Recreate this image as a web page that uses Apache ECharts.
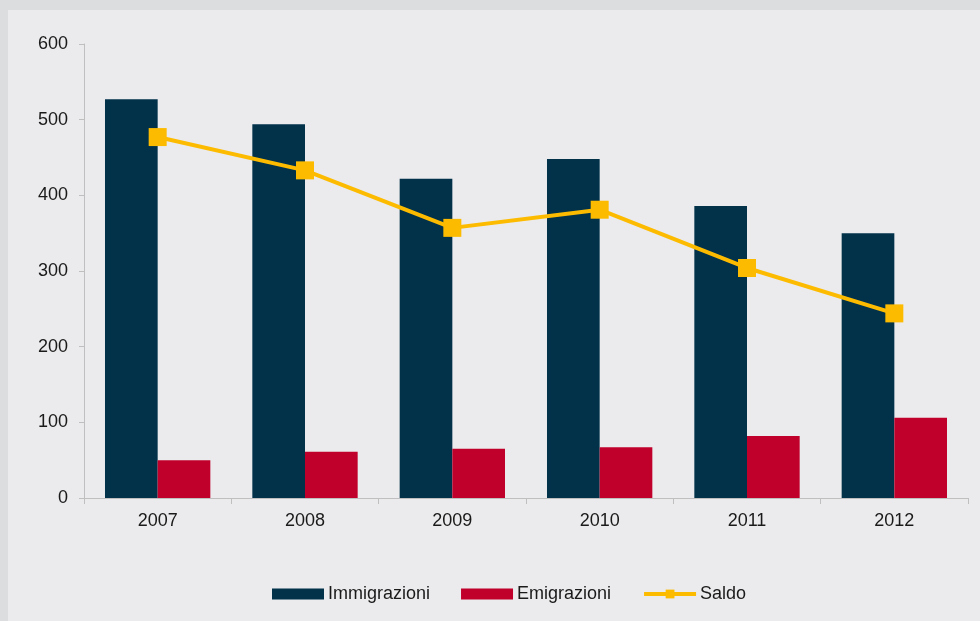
<!DOCTYPE html>
<html>
<head>
<meta charset="utf-8">
<script src="https://cdn.jsdelivr.net/npm/echarts@6/dist/echarts.min.js"></script>
<style>
  html, body { margin: 0; padding: 0; background: #dcdddf; width: 980px; height: 621px; overflow: hidden; }
  #chart { position: absolute; left: 8px; top: 10px; width: 972px; height: 611px; background: #ebebed; }
</style>
</head>
<body>
<div id="chart"></div>
<script>
var years = ["2007", "2008", "2009", "2010", "2011", "2012"];
var immigrazioni = [527, 494, 422, 448, 386, 350];
var emigrazioni = [50, 61, 65, 67, 82, 106];
var saldo = [477, 433, 357, 381, 304, 244];

var chartDom = document.getElementById("chart");
var myChart = echarts.init(chartDom);
var font = "Liberation Sans, Arial, sans-serif";

var option = {
  animation: false,
  textStyle: { fontFamily: font },
  grid: { left: 76, right: 12, top: 34, bottom: 123 },
  legend: {
    bottom: 13,
    left: 259,
    itemWidth: 52,
    itemHeight: 11,
    itemGap: 31,
    textStyle: { fontSize: 18, color: "#1a1a1a", fontFamily: font, padding: [0, 0, 0, -1] },
    data: [
      { name: "Immigrazioni", icon: "rect" },
      { name: "Emigrazioni", icon: "rect" },
      { name: "Saldo", lineStyle: { width: 4 } }
    ]
  },
  xAxis: {
    type: "category",
    data: years,
    axisLine: { lineStyle: { color: "#bfbfbf", width: 1 } },
    axisTick: { show: true, length: 6, lineStyle: { color: "#bfbfbf" } },
    axisLabel: { fontSize: 18, color: "#1a1a1a", margin: 14 }
  },
  yAxis: {
    type: "value",
    min: 0,
    max: 600,
    interval: 100,
    axisLine: { show: true, lineStyle: { color: "#bfbfbf", width: 1 } },
    axisTick: { show: true, length: 5, lineStyle: { color: "#bfbfbf" } },
    axisLabel: { fontSize: 18, color: "#1a1a1a", margin: 16 },
    splitLine: { show: false }
  },
  series: [
    {
      name: "Immigrazioni",
      type: "bar",
      data: immigrazioni,
      barGap: "0%",
      barCategoryGap: "28.5%",
      itemStyle: { color: "#01324a" }
    },
    {
      name: "Emigrazioni",
      type: "bar",
      data: emigrazioni,
      itemStyle: { color: "#c0002b" }
    },
    {
      name: "Saldo",
      type: "line",
      data: saldo,
      symbol: "rect",
      symbolSize: 18,
      lineStyle: { color: "#fdbb00", width: 4 },
      itemStyle: { color: "#fdbb00" }
    }
  ]
};

option && myChart.setOption(option);
</script>
</body>
</html>
